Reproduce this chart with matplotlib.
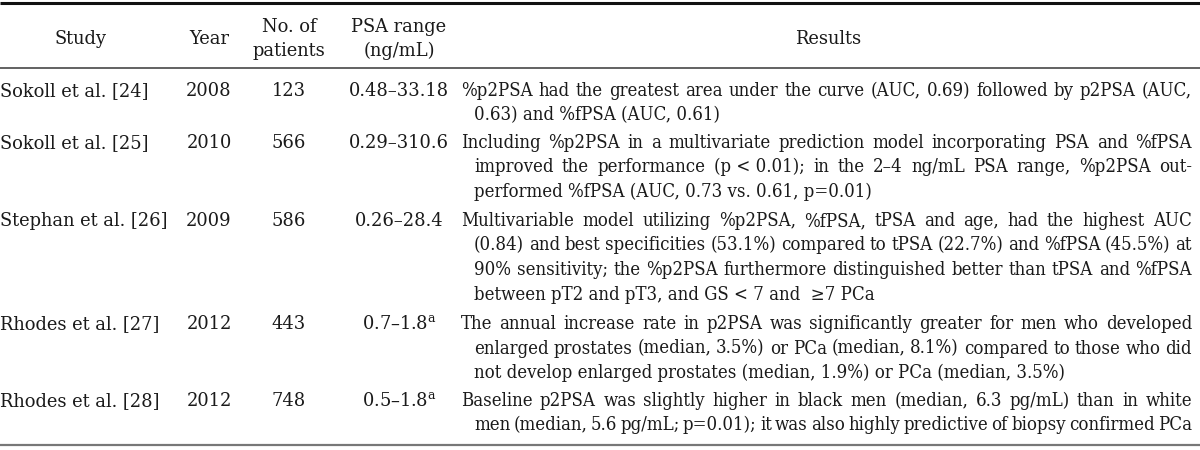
import matplotlib
matplotlib.use("Agg")
import matplotlib.pyplot as plt
from matplotlib.font_manager import FontProperties, fontManager

plt.rcParams["mathtext.fontset"] = "dejavuserif"

# ---------------- data ----------------
header_study = ["Study"]
header_year = ["Year"]
header_patients = ["No. of", "patients"]
header_psa = ["PSA range", "(ng/mL)"]
header_results = ["Results"]

studies = ["Sokoll et al. [24]", "Sokoll et al. [25]", "Stephan et al. [26]",
           "Rhodes et al. [27]", "Rhodes et al. [28]"]
years = ["2008", "2010", "2009", "2012", "2012"]
patients = ["123", "566", "586", "443", "748"]
psa_ranges = ["0.48–33.18", "0.29–310.6", "0.26–28.4",
              "0.7–1.8$^{\\mathrm{a}}$", "0.5–1.8$^{\\mathrm{a}}$"]
NB = "\u00a0"
results = [
    ["%p2PSA had the greatest area under the curve (AUC, 0.69) followed by p2PSA (AUC,",
     "0.63) and %fPSA (AUC, 0.61)"],
    ["Including %p2PSA in a multivariate prediction model incorporating PSA and %fPSA",
     f"improved the performance (p{NB}<{NB}0.01); in the 2–4 ng/mL PSA range, %p2PSA out-",
     "performed %fPSA (AUC, 0.73 vs. 0.61, p=0.01)"],
    ["Multivariable model utilizing %p2PSA, %fPSA, tPSA and age, had the highest AUC",
     "(0.84) and best specificities (53.1%) compared to tPSA (22.7%) and %fPSA (45.5%) at",
     "90% sensitivity; the %p2PSA furthermore distinguished better than tPSA and %fPSA",
     f"between pT2 and pT3, and GS{NB}<{NB}7 and {NB}≥7 PCa"],
    ["The annual increase rate in p2PSA was significantly greater for men who developed",
     "enlarged prostates (median, 3.5%) or PCa (median, 8.1%) compared to those who did",
     "not develop enlarged prostates (median, 1.9%) or PCa (median, 3.5%)"],
    ["Baseline p2PSA was slightly higher in black men (median, 6.3 pg/mL) than in white",
     "men (median, 5.6 pg/mL; p=0.01); it was also highly predictive of biopsy confirmed PCa"],
]

# ---------------- layout (pixels) ----------------
W, H = 1200, 450
fig = plt.figure(figsize=(W / 100, H / 100), dpi=100)
ax = fig.add_axes([0, 0, 1, 1])
ax.set_xlim(0, W)
ax.set_ylim(H, 0)
ax.axis("off")

fig.canvas.draw()
renderer = fig.canvas.get_renderer()


def text_w(s, fp):
    w, h, d = renderer.get_text_width_height_descent(s, fp, ismath=False)
    return w


def make_fp(size, **kw):
    fp = FontProperties(**kw)
    fp.set_size(size)
    return fp


# left-column font: DejaVu Serif sized to the reference width of the first study
left_fp = make_fp(10, family="DejaVu Serif")
left_size = 10 * 149.0 / text_w(studies[0], left_fp)
left_fp = make_fp(left_size, family="DejaVu Serif")

# results font: a condensed serif if present, otherwise Liberation Serif
cond = None
for f in fontManager.ttflist:
    fn = f.fname.replace("\\", "/").split("/")[-1]
    if fn == "DejaVuSerifCondensed.ttf":
        cond = f.fname
        break
res_kw = {"fname": cond} if cond else {"family": "Liberation Serif"}

res_x0, res_x1, res_indent = 461, 1192, 474
MIN_GAP_EM = 0.17  # tightest word gap allowed, in em
base = 14.0
base_fp = make_fp(base, **res_kw)
base_px = base * 100 / 72
size_limit = 99
for para in results:
    for i, line in enumerate(para):
        avail = res_x1 - (res_x0 if i == 0 else res_indent)
        words = line.split(" ")
        wsum = sum(text_w(w_, base_fp) for w_ in words)
        need = wsum + (len(words) - 1) * MIN_GAP_EM * base_px
        size_limit = min(size_limit, base * avail / need)
res_size = min(size_limit, 15.5)
res_fp = make_fp(res_size, **res_kw)

color = "#1a1a1a"
cap_off = 6  # baseline offset below visual centre

# rules
ax.plot([0, W], [3, 3], color="#111111", lw=2.2, solid_capstyle="butt")
ax.plot([0, W], [68, 68], color="#555555", lw=1.3, solid_capstyle="butt")
ax.plot([0, W], [445, 445], color="#777777", lw=1.6, solid_capstyle="butt")

# header
col_x = {"study": 81, "year": 209, "patients": 289, "psa": 399, "results": 828}
head_center = 38
head_gap = 23


def put_header(lines, x):
    n = len(lines)
    for k, s in enumerate(lines):
        y = head_center + (k - (n - 1) / 2) * head_gap + cap_off
        ax.text(x, y, s, ha="center", va="baseline", fontproperties=left_fp, color=color)


put_header(header_study, col_x["study"])
put_header(header_year, col_x["year"])
put_header(header_patients, col_x["patients"])
put_header(header_psa, col_x["psa"])
put_header(header_results, col_x["results"])

# body
row_y = [90, 142, 220, 323, 400]
line_gap = 24.5

for r in range(len(studies)):
    y0 = row_y[r] + cap_off
    ax.text(0, y0, studies[r], ha="left", va="baseline", fontproperties=left_fp, color=color)
    ax.text(col_x["year"], y0, years[r], ha="center", va="baseline", fontproperties=left_fp, color=color)
    ax.text(col_x["patients"], y0, patients[r], ha="center", va="baseline", fontproperties=left_fp, color=color)
    ax.text(col_x["psa"], y0, psa_ranges[r], ha="center", va="baseline", fontproperties=left_fp, color=color)
    para = results[r]
    for i, line in enumerate(para):
        y = y0 + i * line_gap
        x_start = res_x0 if i == 0 else res_indent
        avail = res_x1 - x_start
        natural = text_w(line, res_fp)
        last = i == len(para) - 1
        if last and natural < 0.93 * avail:
            ax.text(x_start, y, line, ha="left", va="baseline", fontproperties=res_fp, color=color)
            continue
        words = line.split(" ")
        widths = [text_w(w_, res_fp) for w_ in words]
        gap = (avail - sum(widths)) / max(len(words) - 1, 1)
        x = x_start
        for w_, ww in zip(words, widths):
            ax.text(x, y, w_, ha="left", va="baseline", fontproperties=res_fp, color=color)
            x += ww + gap

fig.savefig("out.png", dpi=100, facecolor="white")
